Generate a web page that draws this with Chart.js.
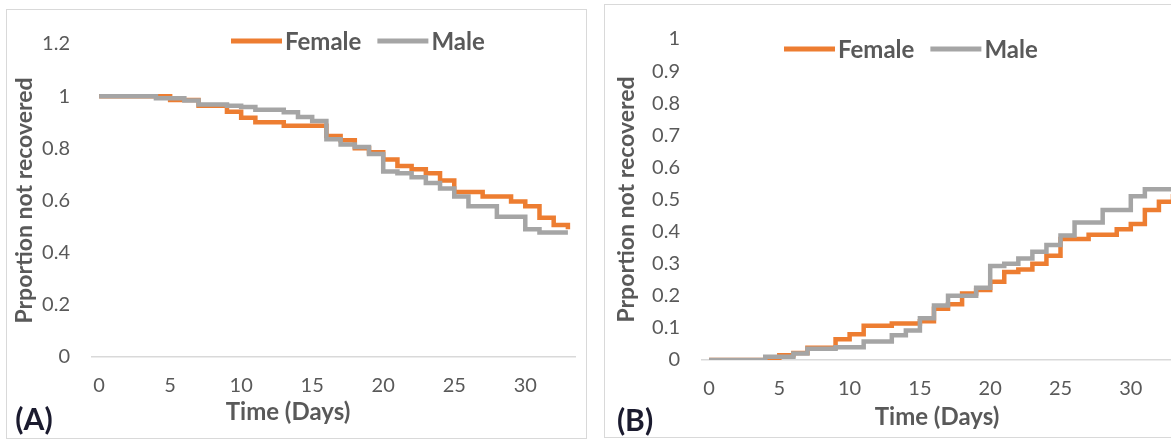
<!DOCTYPE html>
<html>
<head>
<meta charset="utf-8">
<script src="https://cdn.jsdelivr.net/npm/chart.js@4.4.1/dist/chart.umd.min.js"></script>
<style>
  html, body { margin: 0; padding: 0; background: #fff; overflow: hidden; }
  body { width: 1171px; height: 439px; position: relative; }
  .panel { position: absolute; border: 1px solid #d9d9d9; background: #fff; }
  .panel canvas { display: block; }
  #panelA { left: 6px; top: 9px; width: 579px; height: 428px; }
  #panelB { left: 604px; top: 4px; width: 598px; height: 432px; }
</style>
</head>
<body>
<div class="panel" id="panelA"><canvas id="chartA" width="579" height="428"></canvas></div>
<div class="panel" id="panelB"><canvas id="chartB" width="598" height="432"></canvas></div>
<script>
// Shared axis values
const xTicks = [0, 5, 10, 15, 20, 25, 30];
const yTicksA = [0, 0.2, 0.4, 0.6, 0.8, 1, 1.2];
const yTicksB = [0, 0.1, 0.2, 0.3, 0.4, 0.5, 0.6, 0.7, 0.8, 0.9, 1];
const seriesNames = ['Female', 'Male'];

// Panel A - proportion not recovered (days where the step changes, value from that day on)
const daysFemaleA = [0, 5, 7, 9, 10, 11, 13, 16, 17, 18, 19, 20, 21, 22, 23, 24, 25, 27, 29, 30, 31, 32, 33];
const valsFemaleA = [1, 0.985, 0.963, 0.94, 0.917, 0.9, 0.887, 0.847, 0.831, 0.8, 0.785, 0.757, 0.732, 0.72, 0.704, 0.677, 0.633, 0.615, 0.596, 0.578, 0.534, 0.506, 0.49];
const daysMaleA = [0, 4, 6, 7, 9, 10, 11, 13, 14, 15, 16, 17, 18, 19, 20, 21, 22, 23, 24, 25, 26, 28, 30, 31, 33];
const valsMaleA = [1, 0.992, 0.983, 0.968, 0.963, 0.958, 0.948, 0.938, 0.92, 0.905, 0.835, 0.815, 0.805, 0.778, 0.711, 0.704, 0.689, 0.667, 0.646, 0.615, 0.578, 0.538, 0.49, 0.477, 0.477];

// Panel B
const daysFemaleB = [0, 5, 6, 7, 9, 10, 11, 13, 15, 16, 17, 18, 19, 20, 21, 22, 23, 24, 25, 27, 29, 30, 31, 32, 33];
const valsFemaleB = [0, 0.015, 0.022, 0.038, 0.065, 0.08, 0.107, 0.114, 0.121, 0.16, 0.174, 0.207, 0.218, 0.244, 0.274, 0.282, 0.3, 0.325, 0.377, 0.39, 0.407, 0.424, 0.467, 0.493, 0.517];
const daysMaleB = [0, 4, 6, 7, 9, 11, 13, 14, 15, 16, 17, 19, 20, 21, 22, 23, 24, 25, 26, 28, 30, 31, 33];
const valsMaleB = [0, 0.01, 0.02, 0.035, 0.04, 0.058, 0.077, 0.092, 0.13, 0.17, 0.2, 0.225, 0.293, 0.3, 0.316, 0.337, 0.358, 0.388, 0.428, 0.467, 0.51, 0.532, 0.532];

const ORANGE = '#ED7D31';
const GREY = '#A5A5A5';
const TEXT = '#595959';

Chart.defaults.font.family = 'Lato, "Open Sans", sans-serif';

function toPoints(days, vals) {
    return days.map((d, i) => ({ x: d, y: vals[i] }));
}

// Excel-like legend: short thick line, label right after it
const lineLegend = {
    id: 'lineLegend',
    afterDraw(chart, args, opts) {
        const ctx = chart.ctx;
        let x = opts.x;
        ctx.save();
        ctx.font = 'bold 24px Lato, sans-serif';
        ctx.textBaseline = 'middle';
        chart.data.datasets.forEach(ds => {
            ctx.strokeStyle = ds.borderColor;
            ctx.lineWidth = 5;
            ctx.beginPath();
            ctx.moveTo(x, opts.y);
            ctx.lineTo(x + 51, opts.y);
            ctx.stroke();
            x += 54;
            ctx.fillStyle = TEXT;
            ctx.fillText(ds.label, x, opts.y + 1);
            x += ctx.measureText(ds.label).width + 16;
        });
        ctx.restore();
    }
};

// x axis title and panel letter, placed like in the figure
const captions = {
    id: 'captions',
    afterDraw(chart, args, opts) {
        const ctx = chart.ctx;
        ctx.save();
        ctx.textAlign = 'center';
        ctx.textBaseline = 'middle';
        (opts.items || []).forEach(it => {
            ctx.font = it.font;
            ctx.fillStyle = it.color;
            ctx.fillText(it.text, it.x, it.y);
        });
        ctx.restore();
    }
};

function makeChart(id, cfg) {
    const ctx = document.getElementById(id).getContext('2d');
    return new Chart(ctx, {
        type: 'line',
        data: {
            datasets: [{
                label: seriesNames[0],
                data: toPoints(cfg.female[0], cfg.female[1]),
                borderColor: ORANGE,
                backgroundColor: ORANGE,
                borderWidth: 4.5,
                stepped: 'before',
                pointRadius: 0,
                borderJoinStyle: 'miter',
                order: 1
            }, {
                label: seriesNames[1],
                data: toPoints(cfg.male[0], cfg.male[1]),
                borderColor: GREY,
                backgroundColor: GREY,
                borderWidth: 4.5,
                stepped: 'before',
                pointRadius: 0,
                borderJoinStyle: 'miter',
                order: 0
            }]
        },
        options: {
            responsive: false,
            animation: false,
            events: [],
            layout: { padding: { top: cfg.padTop, right: cfg.padRight, left: 0, bottom: 0 } },
            scales: {
                x: {
                    type: 'linear',
                    min: -0.5,
                    max: 33.5,
                    afterBuildTicks: s => { s.ticks = xTicks.map(v => ({ value: v })); },
                    afterFit: s => { s.height = cfg.xHeight; },
                    grid: { display: false, drawTicks: false },
                    border: { display: true, color: '#d9d9d9', width: 1.5 },
                    ticks: { font: { size: 20 }, color: TEXT, padding: 17, maxRotation: 0, callback: v => String(v) }
                },
                y: {
                    min: 0,
                    max: cfg.yMax,
                    afterBuildTicks: s => { s.ticks = cfg.yTicks.map(v => ({ value: v })); },
                    afterFit: s => { s.width = cfg.yWidth; },
                    grid: { display: false, drawTicks: false },
                    border: { display: false },
                    ticks: { font: { size: 20 }, color: TEXT, padding: 22, callback: v => String(v) },
                    title: {
                        display: true,
                        text: 'Prportion not recovered',
                        font: { size: 23, weight: 'bold' },
                        color: TEXT,
                        padding: { top: cfg.yTitlePad, bottom: 0 }
                    }
                }
            },
            plugins: {
                legend: { display: false },
                tooltip: { enabled: false },
                lineLegend: { x: cfg.legendX, y: cfg.legendY },
                captions: {
                    items: [
                        { text: 'Time (Days)', x: cfg.xTitle[0], y: cfg.xTitle[1], font: 'bold 24px Lato, sans-serif', color: TEXT },
                        { text: cfg.tag, x: cfg.tagPos[0], y: cfg.tagPos[1], font: 'bold 30px Lato, sans-serif', color: '#1b1b2f' }
                    ]
                }
            }
        },
        plugins: [lineLegend, captions]
    });
}

makeChart('chartA', {
    female: [daysFemaleA, valsFemaleA],
    male: [daysMaleA, valsMaleA],
    yMax: 1.2, yTicks: yTicksA,
    padTop: 22, padRight: 11, xHeight: 81, yWidth: 85, yTitlePad: 4,
    legendX: 224, legendY: 31,
    xTitle: [281, 402], tag: '(A)', tagPos: [27, 410]
});

makeChart('chartB', {
    female: [daysFemaleB, valsFemaleB],
    male: [daysMaleB, valsMaleB],
    yMax: 1, yTicks: yTicksB,
    padTop: 20, padRight: 23, xHeight: 77, yWidth: 97, yTitlePad: 8,
    legendX: 179, legendY: 44,
    xTitle: [332, 412], tag: '(B)', tagPos: [30, 416]
});
</script>
</body>
</html>
